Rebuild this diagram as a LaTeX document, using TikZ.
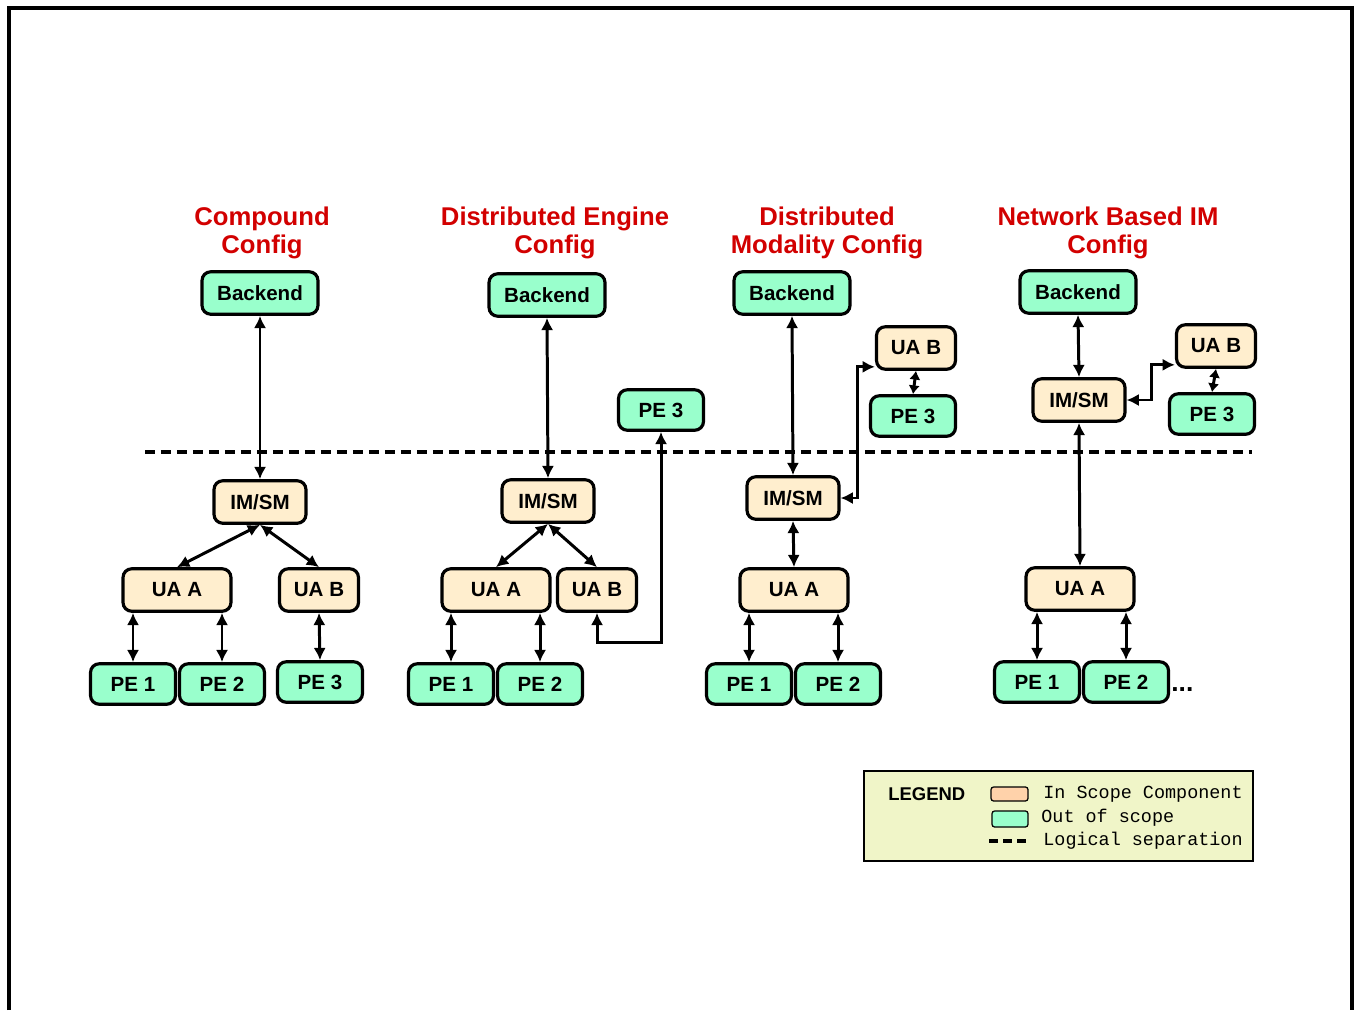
\documentclass[tikz,border=0pt]{standalone}
\usepackage{fontspec}
\setmainfont{Liberation Sans}
\setmonofont{Liberation Mono}
\usetikzlibrary{arrows.meta,calc}
\definecolor{outscope}{RGB}{153,255,204}
\definecolor{inscope}{RGB}{255,238,206}
\definecolor{swatchpeach}{RGB}{255,210,170}
\definecolor{legendbg}{RGB}{240,245,200}
\definecolor{titlered}{RGB}{210,0,0}

\begin{document}
\begin{tikzpicture}[x=0.02cm,y=-0.02cm,
  compbox/.style={draw=black, line width=1.8pt, rounded corners=5pt, inner sep=0pt,
    minimum height=0.85cm, font=\fontsize{11.7}{13}\selectfont\bfseries},
  oos/.style={compbox, fill=outscope},
  ins/.style={compbox, fill=inscope},
  wbe/.style={minimum width=2.32cm},
  wim/.style={minimum width=1.84cm},
  wua/.style={minimum width=2.16cm},
  wub/.style={minimum width=1.58cm},
  wpe/.style={minimum width=1.70cm, minimum height=0.81cm},
  link/.style={line width=1.7pt, {Latex[length=7pt,width=7pt]}-{Latex[length=7pt,width=7pt]}},
  shortlink/.style={line width=1.7pt, {Latex[length=5pt,width=6.5pt]}-{Latex[length=5pt,width=6.5pt]}},
  cfgtitle/.style={text=titlered, align=center, font=\fontsize{14.6}{15.9}\selectfont\bfseries, inner sep=0pt},
  legtext/.style={anchor=west, inner sep=0pt, font=\fontsize{10.5}{12}\ttfamily},
]
\useasboundingbox (0,0) rectangle (1354,1010);

% outer frame
\draw[line width=1.8pt] (9,1010) -- (9,8) -- (1352,8) -- (1352,1010);

% logical separation
\draw[line width=2.1pt, dash pattern=on 0.2cm off 0.12cm] (145,452) -- (1252,452);

% titles
\node[cfgtitle] (t1) at (262,233) {Compound\\Config};
\node[cfgtitle] (t2) at (555,233) {Distributed Engine\\Config};
\node[cfgtitle] (t3) at (827,233) {Distributed\\Modality Config};
\node[cfgtitle] (t4) at (1108,233) {Network Based IM\\Config};

% compound config
\node[oos,wbe] (be1) at (260,293) {Backend};
\node[ins,wim] (im1) at (260,502) {IM/SM};
\node[ins,wua] (uaa1) at (177,590) {UA A};
\node[ins,wub] (uab1) at (319,590) {UA B};
\node[oos,wpe] (pe11) at (133,684) {PE 1};
\node[oos,wpe] (pe21) at (222,684) {PE 2};
\node[oos,wpe] (pe31) at (320,682) {PE 3};

% distributed engine config
\node[oos,wbe] (be2) at (547,295) {Backend};
\node[ins,wim] (im2) at (548,501) {IM/SM};
\node[ins,wua] (uaa2) at (496,590) {UA A};
\node[ins,wub] (uab2) at (597,590) {UA B};
\node[oos,wpe] (pe12) at (451,684) {PE 1};
\node[oos,wpe] (pe22) at (540,684) {PE 2};
\node[oos,wpe] (pe32) at (661,410) {PE 3};

% distributed modality config
\node[oos,wbe] (be3) at (792,293) {Backend};
\node[ins,wim] (im3) at (793,498) {IM/SM};
\node[ins,wua] (uaa3) at (794,590) {UA A};
\node[ins,wub] (uab3) at (916,348) {UA B};
\node[oos,wpe] (pe33) at (913,416) {PE 3};
\node[oos,wpe] (pe13) at (749,684) {PE 1};
\node[oos,wpe] (pe23) at (838,684) {PE 2};

% network based IM config
\node[oos,wbe] (be4) at (1078,292) {Backend};
\node[ins,wim] (im4) at (1079,400) {IM/SM};
\node[ins,wub] (uab4) at (1216,346) {UA B};
\node[oos,wpe] (pe34) at (1212,414) {PE 3};
\node[ins,wua] (uaa4) at (1080,589) {UA A};
\node[oos,wpe] (pe14) at (1037,682) {PE 1};
\node[oos,wpe] (pe24) at (1126,682) {PE 2};
\node[inner sep=0pt, font=\fontsize{15}{16}\selectfont\bfseries, anchor=west] (more) at (1171,690) {...};

% connectors: compound
\draw[link] (be1.south) -- (im1.north);
\draw[link] (im1.south) -- (uaa1.north);
\draw[link] (im1.south) -- (uab1.north);
\draw[link] (pe11.north |- uaa1.south) -- (pe11.north);
\draw[link] (pe21.north |- uaa1.south) -- (pe21.north);
\draw[link] (uab1.south) -- (pe31.north);

% connectors: distributed engine
\draw[link] (be2.south) -- (im2.north);
\draw[link] (im2.south) -- (uaa2.north);
\draw[link] (im2.south) -- (uab2.north);
\draw[link] (pe12.north |- uaa2.south) -- (pe12.north);
\draw[link] (pe22.north |- uaa2.south) -- (pe22.north);
\draw[link] (uab2.south) -- ++(0,30) -| (pe32.south);

% connectors: distributed modality
\draw[link] (be3.south) -- (im3.north);
\draw[link] (im3.south) -- (uaa3.north);
\draw[link] (pe13.north |- uaa3.south) -- (pe13.north);
\draw[link] (pe23.north |- uaa3.south) -- (pe23.north);
\draw[shortlink] (uab3.south) -- (pe33.north);
\draw[link] (im3.east) -- ++(17,0) |- ($(uab3.south west)+(0,-4)$);

% connectors: network based IM
\draw[link] (be4.south) -- (im4.north);
\draw[link] (im4.south) -- (uaa4.north);
\draw[link] (pe14.north |- uaa4.south) -- (pe14.north);
\draw[link] (pe24.north |- uaa4.south) -- (pe24.north);
\draw[shortlink] (uab4.south) -- (pe34.north);
\draw[link] (im4.east) -- ++(25,0) |- ($(uab4.south west)+(0,-4)$);

% legend
\draw[fill=legendbg, line width=0.9pt] (864,771) rectangle (1253,861);
\node[anchor=west, inner sep=0pt, font=\fontsize{10.5}{12}\selectfont\bfseries] (legtitle) at (888,794) {LEGEND};
\draw[fill=swatchpeach, line width=0.7pt, rounded corners=1.5pt] (991,787) rectangle (1028,801);
\draw[fill=outscope, line width=0.7pt, rounded corners=1.5pt] (992,811) rectangle (1028,827);
\draw[line width=1.8pt, dash pattern=on 0.18cm off 0.1cm] (989,841) -- (1030,841);
\node[legtext] (leg1) at (1043,794) {In Scope Component};
\node[legtext] (leg2) at (1041,818) {Out of scope};
\node[legtext] (leg3) at (1043,841) {Logical separation};
\end{tikzpicture}
\end{document}
